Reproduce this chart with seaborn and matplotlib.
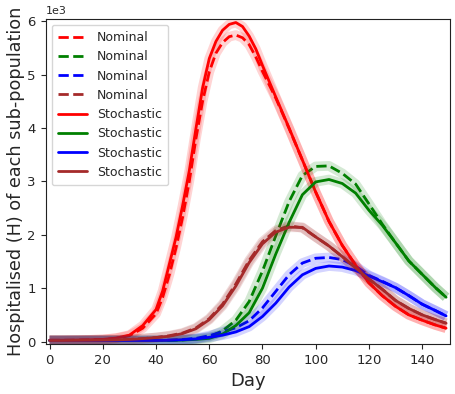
import seaborn as sns
import matplotlib.pyplot as plt
import pandas as pd

sns.set_style("ticks")

# days sampled from the figure
days = [0, 5, 10, 15, 20, 25, 30, 35, 40, 45, 50, 55, 60, 65, 70, 75,
        80, 85, 90, 95, 100, 105, 110, 115, 120, 125, 130, 135, 140, 145, 149]
# red peaks sharply, so it was read on a finer grid
red_days = [0, 5, 10, 15, 20, 25, 30, 35, 40, 42.5, 45, 47.5, 50, 52.5, 55, 57.5, 60, 62.5, 65,
            67.5, 70, 72.5, 75, 77.5, 80, 85, 90, 95, 100, 105, 110, 115, 120, 125, 130, 135,
            140, 145, 149]

# nominal (dashed) hospitalised per sub-population
red_nom = [25, 25, 27, 31, 38, 60, 110, 250, 520, 830, 1250, 1750, 2330, 3000, 3800, 4500, 5050,
           5400, 5600, 5710, 5740, 5690, 5560, 5330, 5060, 4560, 3990, 3400, 2800, 2250, 1800,
           1430, 1100, 860, 660, 500, 400, 310, 250]
green_nom = [20, 20, 20, 20, 20, 20, 20, 20, 20, 22, 30, 50, 90, 200, 400, 750,
             1320, 1980, 2620, 3110, 3280, 3290, 3150, 2950, 2580, 2200, 1850, 1510, 1260, 1010, 830]
blue_nom = [20, 20, 20, 20, 20, 20, 20, 20, 22, 28, 40, 60, 110, 180, 260, 390,
            630, 940, 1250, 1470, 1560, 1575, 1535, 1410, 1240, 1130, 1010, 860, 700, 580, 480]
brown_nom = [20, 20, 22, 24, 27, 32, 40, 55, 75, 110, 160, 255, 430, 700, 1080, 1520,
             1870, 2080, 2170, 2130, 1960, 1790, 1590, 1380, 1170, 980, 770, 620, 500, 410, 344]

# stochastic (solid) mean
red_sto = [25, 25, 28, 32, 40, 65, 120, 300, 600, 950, 1450, 1950, 2550, 3200, 3990, 4750, 5300,
           5620, 5830, 5940, 5975, 5900, 5720, 5480, 5170, 4580, 4000, 3400, 2800, 2250, 1800,
           1430, 1100, 860, 660, 500, 400, 310, 250]
green_sto = [20, 20, 20, 20, 20, 20, 20, 20, 20, 22, 28, 40, 60, 140, 300, 540,
             1000, 1640, 2230, 2750, 2990, 3035, 2960, 2780, 2460, 2180, 1850, 1510, 1260, 1010, 830]
blue_sto = [20, 20, 20, 20, 20, 20, 20, 20, 20, 25, 35, 50, 80, 120, 180, 280,
            470, 720, 1020, 1250, 1370, 1415, 1395, 1330, 1230, 1120, 1010, 860, 700, 580, 480]
brown_sto = [20, 20, 22, 24, 27, 32, 40, 55, 75, 100, 150, 240, 410, 670, 1040, 1480,
             1830, 2050, 2140, 2140, 1960, 1790, 1590, 1380, 1170, 980, 770, 620, 500, 410, 344]

colors = ["red", "green", "blue", "brown"]
xs = [red_days, days, days, days]
nominal = [red_nom, green_nom, blue_nom, brown_nom]
stochastic = [red_sto, green_sto, blue_sto, brown_sto]

fig = plt.figure(figsize=(4.56, 3.94), dpi=100)
ax = fig.add_axes([0.1, 0.127, 0.887, 0.826])

handles = []
for kind, series, ls in [("Nominal", nominal, "--"), ("Stochastic", stochastic, "-")]:
    for color, x, vals in zip(colors, xs, series):
        df = pd.DataFrame({"Day": x, "H": vals})
        # pale band around each curve
        sns.lineplot(data=df, x="Day", y="H", ax=ax, color=color, linewidth=7,
                     alpha=0.17, legend=False, solid_capstyle="butt")
        sns.lineplot(data=df, x="Day", y="H", ax=ax, color=color, linewidth=2,
                     linestyle=ls, legend=False)
        handles.append((ax.lines[-1], kind))

ax.legend([h for h, _ in handles], [k for _, k in handles], loc="upper left",
          fontsize=9, handlelength=2.3, borderpad=0.5, labelspacing=0.5)

ax.set_xlim(-1.5, 150.5)
ax.set_ylim(-45, 6050)
ax.set_xticks([0, 20, 40, 60, 80, 100, 120, 140])
ax.ticklabel_format(axis="y", style="sci", scilimits=(3, 3))
ax.yaxis.get_offset_text().set_fontsize(8)
ax.tick_params(labelsize=9.5)
ax.set_xlabel("Day", fontsize=13)
ax.set_ylabel("Hospitalised (H) of each sub-population", fontsize=12.7, labelpad=2)
for s in ax.spines.values():
    s.set_color("#222222")

plt.savefig("out.png", dpi=100)
plt.close()
